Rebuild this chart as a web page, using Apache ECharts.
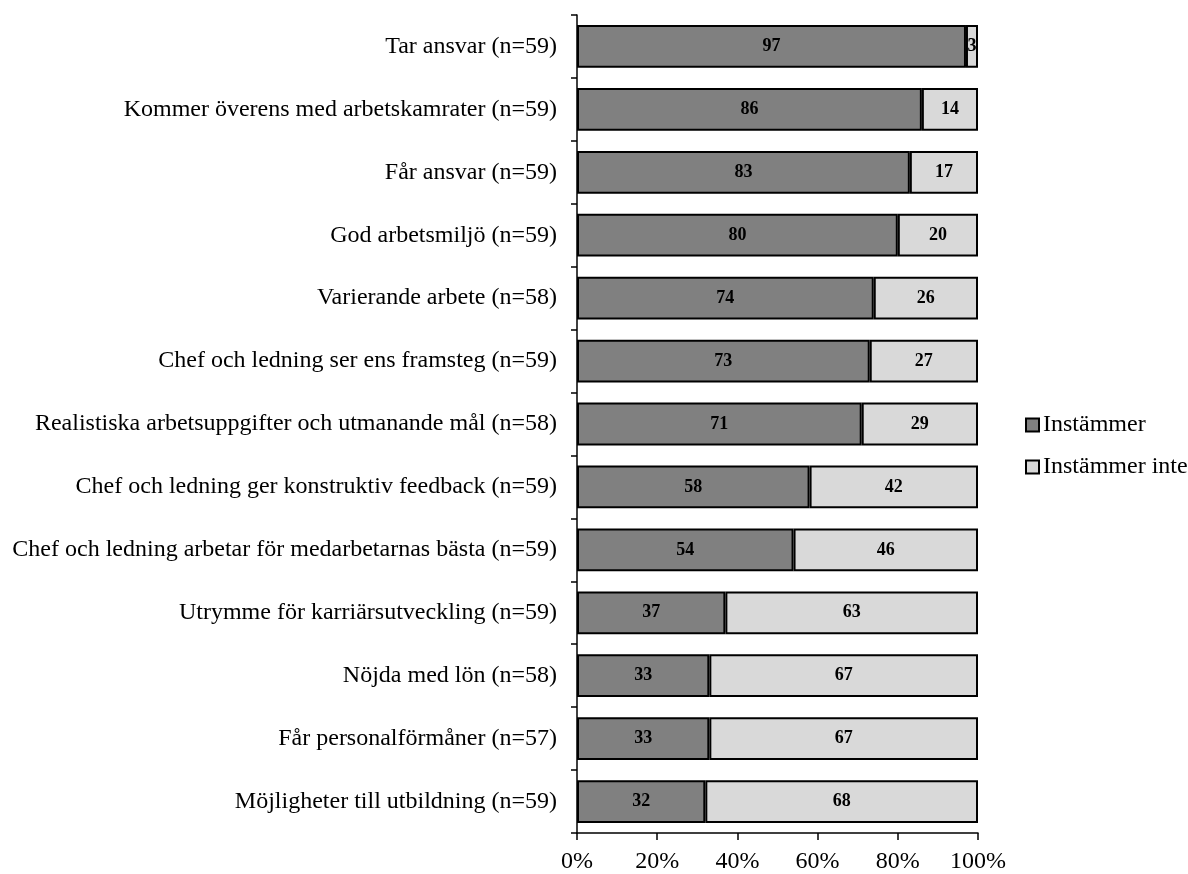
<!DOCTYPE html>
<html>
<head>
<meta charset="utf-8">
<script src="https://cdn.jsdelivr.net/npm/echarts@6/dist/echarts.min.js"></script>
<style>
  html, body { margin: 0; padding: 0; background: #fff; }
  #main { width: 1188px; height: 874px; }
</style>
</head>
<body>
<div id="main"></div>
<script>
// kategorier (uppifrån och ned)
var categories = [
  'Tar ansvar (n=59)',
  'Kommer överens med arbetskamrater (n=59)',
  'Får ansvar (n=59)',
  'God arbetsmiljö (n=59)',
  'Varierande arbete (n=58)',
  'Chef och ledning ser ens framsteg (n=59)',
  'Realistiska arbetsuppgifter och utmanande mål (n=58)',
  'Chef och ledning ger konstruktiv feedback (n=59)',
  'Chef och ledning arbetar för medarbetarnas bästa (n=59)',
  'Utrymme för karriärsutveckling (n=59)',
  'Nöjda med lön (n=58)',
  'Får personalförmåner (n=57)',
  'Möjligheter till utbildning (n=59)'
];
var instammer = [97, 86, 83, 80, 74, 73, 71, 58, 54, 37, 33, 33, 32];
var instammerInte = [3, 14, 17, 20, 26, 27, 29, 42, 46, 63, 67, 67, 68];
var seriesNames = ['Instämmer', 'Instämmer inte'];

var font = 'Liberation Serif, Times New Roman, serif';

var chart = echarts.init(document.getElementById('main'));

var labelStyle = {
  show: true,
  position: 'inside',
  fontFamily: font,
  fontWeight: 'bold',
  fontSize: 18,
  color: '#000'
};

var option = {
  animation: false,
  textStyle: { fontFamily: font },
  grid: { left: 577, top: 15, width: 401, height: 820, containLabel: false },
  legend: {
    orient: 'vertical',
    left: 1020,
    top: 408,
    itemWidth: 13,
    itemHeight: 13,
    itemGap: 18,
    icon: 'rect',
    textStyle: { fontFamily: font, fontSize: 24, color: '#000', padding: [0, 0, 0, -1] },
    data: seriesNames
  },
  xAxis: {
    type: 'value',
    min: 0,
    max: 100,
    interval: 20,
    axisLine: { show: true, lineStyle: { color: '#000', width: 1.5 } },
    axisTick: { show: true, length: 7, lineStyle: { color: '#000', width: 1.5 } },
    splitLine: { show: false },
    axisLabel: {
      formatter: '{value}%',
      fontFamily: font,
      fontSize: 24,
      color: '#000',
      margin: 17
    }
  },
  yAxis: {
    type: 'category',
    inverse: true,
    data: categories,
    axisLine: { show: true, lineStyle: { color: '#000', width: 1.5 } },
    axisTick: { show: true, length: 6, inside: false, lineStyle: { color: '#000', width: 1.5 } },
    axisLabel: {
      fontFamily: font,
      fontSize: 24,
      color: '#000',
      margin: 20
    }
  },
  series: [
    {
      name: seriesNames[0],
      type: 'bar',
      stack: 'tot',
      barCategoryGap: '32%',
      data: instammer,
      itemStyle: { color: '#808080', borderColor: '#000', borderWidth: 2 },
      label: labelStyle
    },
    {
      name: seriesNames[1],
      type: 'bar',
      stack: 'tot',
      barCategoryGap: '32%',
      data: instammerInte,
      itemStyle: { color: '#d9d9d9', borderColor: '#000', borderWidth: 2 },
      label: labelStyle
    }
  ]
};

chart.setOption(option);
</script>
</body>
</html>
